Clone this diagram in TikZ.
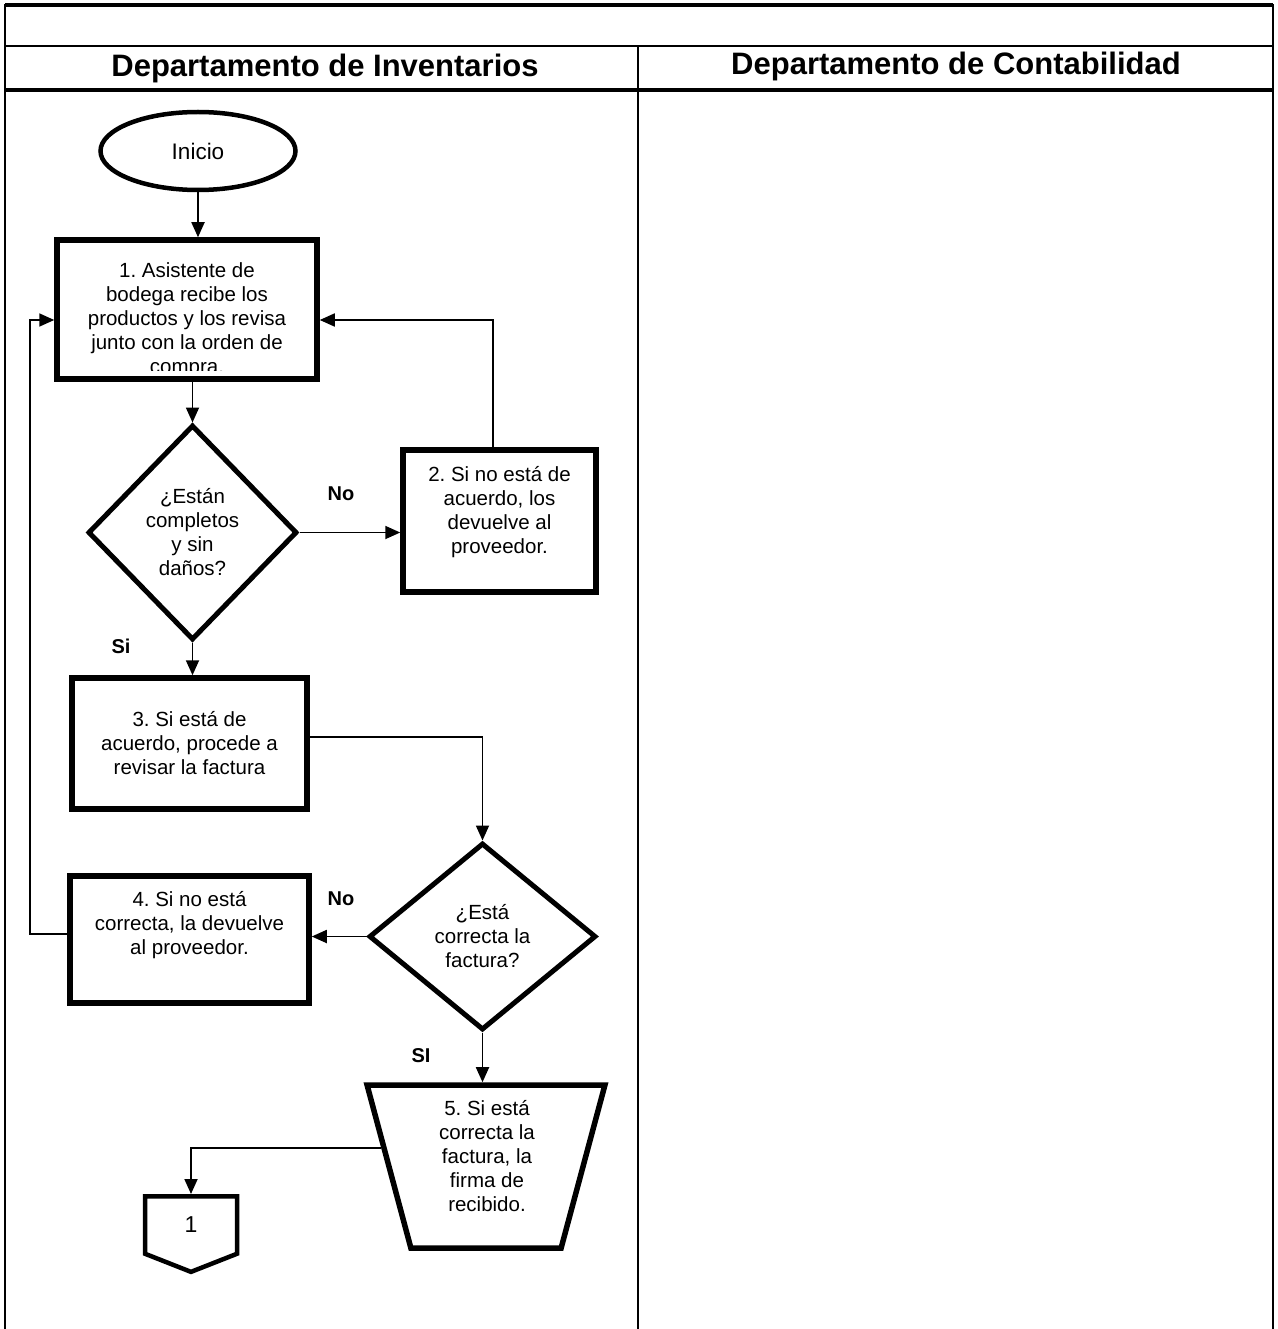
\documentclass[tikz,border=0pt]{standalone}
\usepackage{fontspec}
\setmainfont{Liberation Sans}
\frenchspacing
\usetikzlibrary{shapes.geometric,shapes.symbols,arrows.meta,positioning}
\tikzset{
    txt/.style={font=\fontsize{20.5}{24}\selectfont, align=center, inner sep=0pt},
    etiq/.style={font=\fontsize{20}{24}\selectfont\bfseries, inner sep=0pt},
    titulo/.style={font=\fontsize{31}{36}\selectfont\bfseries, inner sep=0pt},
    caja/.style={txt, draw, rectangle, line width=5.5pt},
    rombo/.style={txt, draw, diamond, line width=5pt},
    elipse/.style={txt, draw, ellipse, line width=4.5pt, minimum width=195, minimum height=78,
        font=\fontsize{22.5}{26}\selectfont},
    trap/.style={txt, draw, trapezium, trapezium angle=73.75, trapezium stretches=true,
        shape border rotate=180, line width=5.5pt, inner sep=4pt, minimum width=238, minimum height=163},
    conector/.style={txt, draw, signal, signal to=south, signal from=nowhere,
        signal pointer angle=137, line width=4.5pt, minimum width=92, minimum height=60,
        font=\fontsize{23}{26}\selectfont},
    linea/.style={line width=1.8pt},
    flecha/.style={linea, -{Triangle[length=15pt,width=13pt]}}
}
\begin{document}
\begin{tikzpicture}[x=1pt, y=-1pt, line join=miter]
    \useasboundingbox (0,0) rectangle (1277,1329);
    % marco y carriles
    \draw[linea] (5,1329) -- (5,5) -- (1273,5) -- (1273,1329);
    \draw[line width=4pt] (5,5) -- (1273,5);
    \draw[linea] (5,46) -- (1273,46) (638,46) -- (638,1329);
    \draw[line width=4pt] (5,90) -- (1273,90);
    \node[titulo] (tinv) at (325,68) {Departamento de Inventarios};
    \node[titulo] (tcont) at (956,66) {Departamento de Contabilidad};
    % nodos
    \node[elipse] (ini) at (198,151) {Inicio};
    \node[caja, minimum width=260, minimum height=139] (b1) at (187,309.5) {};
    \begin{scope}
        \clip ([yshift=11pt]b1.south west) rectangle (b1.north east);
        \node[txt, anchor=north] (b1t) at (187,262) {1. Asistente de\\bodega recibe los\\productos y los revisa\\junto con la orden de\\compra.};
    \end{scope}
    \node[rombo, minimum width=209, minimum height=215] (d1) at (192.5,532.5) {¿Están\\completos\\y sin\\daños?};
    \node[caja, minimum width=193, minimum height=142] (b2) at (499.5,521) {};
    \node[txt, anchor=north] (b2t) at (499.5,466) {2. Si no está de\\acuerdo, los\\devuelve al\\proveedor.};
    \node[caja, minimum width=235, minimum height=131] (b3) at (189.5,743.5) {3. Si está de\\acuerdo, procede a\\revisar la factura};
    \node[rombo, minimum width=227, minimum height=187] (d2) at (482.5,936.5) {¿Está\\correcta la\\factura?};
    \node[caja, minimum width=239, minimum height=127] (b4) at (189.5,939.5) {};
    \node[txt, anchor=north] (b4t) at (189.5,891) {4. Si no está\\correcta, la devuelve\\al proveedor.};
    \node[trap] (t5) at (486,1166.5) {\mbox{}};
    \node[txt, anchor=north] (t5t) at (487,1100) {5. Si está\\correcta la\\factura, la\\firma de\\recibido.};
    \node[conector] (c1) at (191,1225) {1};
    \foreach \nm/\xx/\yy/\tx in {lno1/341/494/No, lsi1/121/646/Si, lno2/341/899/No, lsi2/421/1056/SI}
        \node[etiq] (\nm) at (\xx,\yy) {\tx};
    % conectores
    \draw[flecha] (ini.south) -- (ini.south |- b1.north);
    \draw[flecha] (d1.north |- b1.south) -- (d1.north);
    \draw[flecha] (d1.east) -- (d1.east -| b2.west);
    \draw[flecha] ([xshift=-6.5pt]b2.north) |- ([yshift=-10.5pt]b1.east);
    \draw[flecha] (d1.south) -- (d1.south |- b3.north);
    \draw[flecha] ([yshift=6.5pt]b3.east) -| (d2.north);
    \draw[flecha] (d2.west) -- (d2.west -| b4.east);
    \draw[flecha] ([yshift=5.5pt]b4.west) -- ++(-37,0) |- ([yshift=-10.5pt]b1.west);
    \draw[flecha] (d2.south) -- (d2.south |- t5.north);
    \draw[flecha] (t5.170) -| (c1.north);
\end{tikzpicture}
\end{document}
